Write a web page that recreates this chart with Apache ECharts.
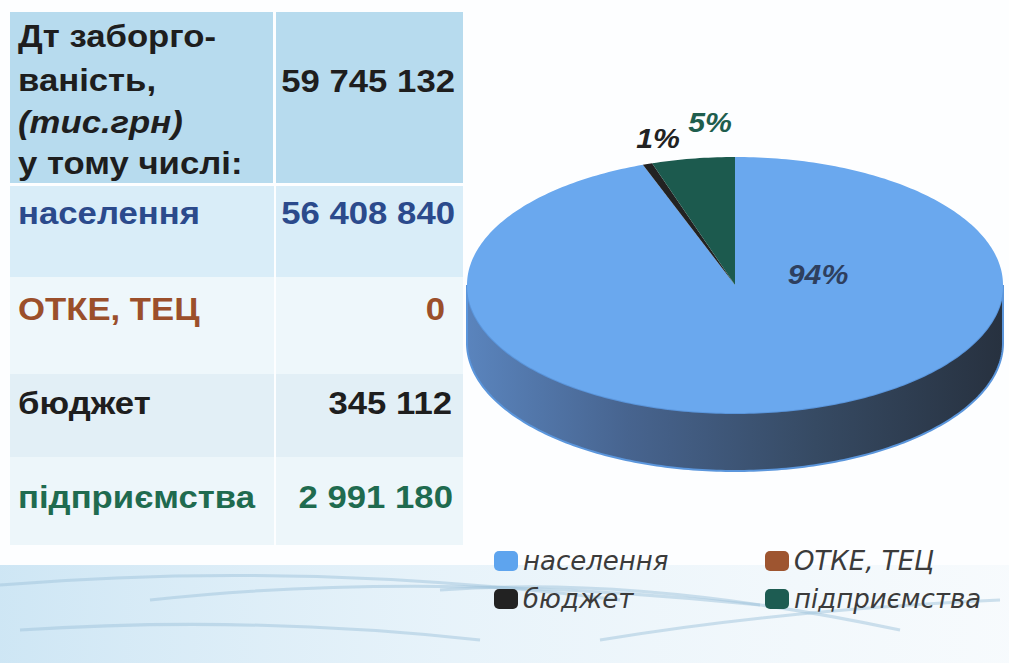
<!DOCTYPE html>
<html>
<head>
<meta charset="utf-8">
<script src="https://cdn.jsdelivr.net/npm/echarts@6/dist/echarts.min.js"></script>
<style>
  html, body { margin: 0; padding: 0; background: #fff; }
  #debtChart { width: 1009px; height: 663px; }
</style>
</head>
<body>
<div id="debtChart"></div>
<script>
// дані (тис.грн)
const categories = ["населення", "ОТКЕ, ТЕЦ", "бюджет", "підприємства"];
const debtValues = [56408840, 0, 345112, 2991180];
const headerLines = ["Дт заборго-", "ваність,", "(тис.грн)", "у тому числі:"];

const sliceColors = ["#6aa8ee", "#9e5530", "#222222", "#1c5a4e"];
const legendColors = ["#5ea4ee", "#9e5530", "#222222", "#1d5c52"];
const rowTextColors = ["#2b4a8c", "#9b4f2b", "#1e1e1e", "#1f6b4f"];
const pctColors = ["#2e3f5e", "#9b4f2b", "#222222", "#1f5e4e"];

const total = debtValues.reduce((a, b) => a + b, 0);
const cumulative = debtValues.map((v, i) => debtValues.slice(0, i).reduce((a, b) => a + b, 0));

const fmt = n => String(n).replace(/\B(?=(\d{3})+(?!\d))/g, " ");

// геометрія "3D" пирога
const CX = 735, CY = 285, RX = 268, RY = 128, DEPTH = 58;
const SX = 1.12; // текст в оригіналі трохи розтягнутий по горизонталі
const FONT = "'Liberation Sans', Arial, sans-serif";

function arc(a, b, dy) {
  const pts = [];
  const steps = Math.max(2, Math.ceil(Math.abs(b - a) / (Math.PI / 180)));
  for (let k = 0; k <= steps; k++) {
    const t = a + (b - a) * k / steps;
    pts.push([CX + RX * Math.sin(t), CY - RY * Math.cos(t) + dy]);
  }
  return pts;
}

// позиції підписів відносно центру
const labelOffsets = { 0: [83, -10], 2: [-77, -146], 3: [-25, -162] };

function renderSlice(i, api) {
  const v = api.value(0);
  if (!v) return { type: "group", children: [] };
  const start = cumulative[i] / total * Math.PI * 2;
  const end = (cumulative[i] + v) / total * Math.PI * 2;
  const children = [];

  // бічна стінка (видно лише передню половину)
  const a = Math.max(start, Math.PI / 2), b = Math.min(end, Math.PI * 1.5);
  if (b > a) {
    children.push({
      type: "polygon",
      shape: { points: arc(a, b, 0).concat(arc(b, a, DEPTH)) },
      style: {
        fill: new echarts.graphic.LinearGradient(0, 0, 1, 0, [
          { offset: 0, color: "#5a84bd" },
          { offset: 0.3, color: "#47648f" },
          { offset: 0.65, color: "#364a63" },
          { offset: 1, color: "#27313f" }
        ]),
        stroke: "#5b96dc",
        lineWidth: 2
      }
    });
  }

  // верхня грань
  children.push({
    type: "polygon",
    shape: { points: [[CX, CY]].concat(arc(start, end, 0)) },
    style: { fill: sliceColors[i] }
  });

  const pct = Math.round(v / total * 100);
  const off = labelOffsets[i] || [0, 0];
  children.push({
    type: "text",
    x: CX + off[0],
    y: CY + off[1],
    scaleX: SX,
    style: {
      text: pct + "%",
      x: 0, y: 0,
      align: "center",
      verticalAlign: "middle",
      fill: pctColors[i],
      font: "italic bold 27px " + FONT
    }
  });
  return { type: "group", children: children };
}

function txt(x, y, text, color, align, style) {
  return {
    type: "text", x: x, y: y, scaleX: SX, z: 5,
    style: {
      text: text, x: 0, y: 0, align: align || "left", verticalAlign: "middle",
      fill: color, font: (style || "bold") + " 31px " + FONT
    }
  };
}

const graphics = [];
// фон "вода" внизу
graphics.push({
  type: "rect", z: 0,
  shape: { x: 0, y: 565, width: 1009, height: 98 },
  style: {
    fill: new echarts.graphic.LinearGradient(0, 0, 1, 0, [
      { offset: 0, color: "rgba(186,220,240,0.7)" },
      { offset: 0.45, color: "rgba(210,232,245,0.5)" },
      { offset: 1, color: "rgba(232,242,248,0.3)" }
    ])
  }
});
[[0, 585, 300, 560, 620, 600], [150, 600, 420, 570, 760, 605], [440, 590, 640, 575, 900, 630],
 [20, 630, 250, 615, 480, 640], [600, 640, 780, 610, 1000, 600]].forEach(c => {
  graphics.push({
    type: "bezierCurve", z: 1,
    shape: { x1: c[0], y1: c[1], cpx1: c[2], cpy1: c[3], x2: c[4], y2: c[5] },
    style: { stroke: "rgba(160,195,220,0.5)", lineWidth: 3, fill: null }
  });
});

// таблиця
graphics.push({ type: "rect", z: 2, shape: { x: 10, y: 12, width: 263, height: 171 }, style: { fill: "#b7dbee" } });
graphics.push({ type: "rect", z: 2, shape: { x: 276, y: 12, width: 187, height: 171 }, style: { fill: "#b7dbee" } });
const rowBands = [[186, 91, "#d9edf8"], [277, 97, "#eef7fb"], [374, 83, "#e2eff6"], [457, 88, "#edf6fa"]];
rowBands.forEach(r => {
  graphics.push({ type: "rect", z: 2, shape: { x: 10, y: r[0], width: 264, height: r[1] }, style: { fill: r[2] } });
  graphics.push({ type: "rect", z: 2, shape: { x: 276, y: r[0], width: 187, height: r[1] }, style: { fill: r[2] } });
});

const headerY = [36, 80, 122, 163];
headerLines.forEach((line, k) => {
  graphics.push(txt(18, headerY[k], line, "#1e1e1e", "left", k === 2 ? "italic bold" : "bold"));
});
graphics.push(txt(455, 81, fmt(total), "#1e1e1e", "right"));

const rowY = [213, 309, 403, 497];
const valueRight = [455, 445, 452, 453];
categories.forEach((name, k) => {
  graphics.push(txt(18, rowY[k], name, rowTextColors[k], "left"));
  graphics.push(txt(valueRight[k], rowY[k], fmt(debtValues[k]), rowTextColors[k], "right"));
});

const chart = echarts.init(document.getElementById("debtChart"), null, { renderer: "svg" });

const legendText = {
  fontSize: 26, fontStyle: "italic", color: "#3b3b3b", fontFamily: "'DejaVu Sans', sans-serif"
};

chart.setOption({
  backgroundColor: "#fdfeff",
  animation: false,
  graphic: { elements: graphics },
  legend: [
    {
      data: [categories[0], categories[2]], orient: "vertical", left: 489, top: 543,
      itemWidth: 24, itemHeight: 20, itemGap: 12, icon: "roundRect",
      selectedMode: false, textStyle: legendText
    },
    {
      data: [categories[1], categories[3]], orient: "vertical", left: 760, top: 543,
      itemWidth: 24, itemHeight: 20, itemGap: 12, icon: "roundRect",
      selectedMode: false, textStyle: legendText
    }
  ],
  series: categories.map((name, i) => ({
    type: "custom",
    name: name,
    coordinateSystem: "none",
    z: 3,
    itemStyle: { color: legendColors[i] },
    data: [[debtValues[i]]],
    renderItem: (params, api) => renderSlice(i, api)
  }))
});

window.addEventListener("resize", () => chart.resize());
</script>
</body>
</html>
